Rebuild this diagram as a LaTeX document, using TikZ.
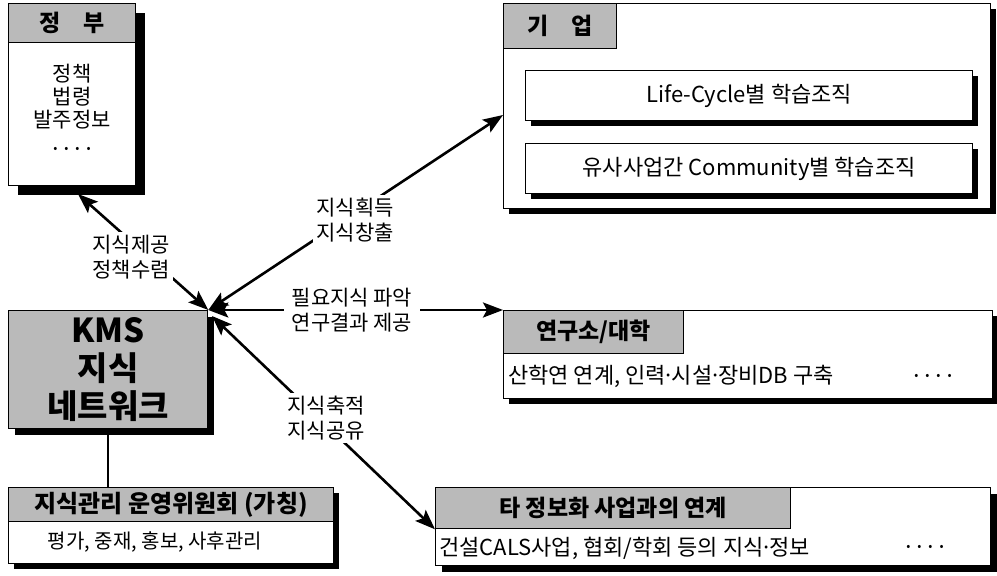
\documentclass[tikz,border=0pt]{standalone}
\usepackage{fontspec}
\setmainfont{Noto Sans CJK KR}
\usetikzlibrary{arrows.meta,shadows}
\newcommand\myfs[2]{\fontsize{#1}{#2}\selectfont}
\newcommand\md{\makebox[6pt][c]{·}}
\newcommand\fourdots{{\myfs{12}{12}•\hspace{7pt}•\hspace{7pt}•\hspace{7pt}•}}
\begin{document}
\begin{tikzpicture}[x=1pt,y=-1pt,
  box/.style={draw=black, line width=1.3pt, fill=white, inner sep=0pt, anchor=north west},
  sh/.style={drop shadow={shadow xshift=#1, shadow yshift=-#1, fill=black, opacity=1}},
  hdr/.style={draw=black, line width=1.3pt, fill=black!27, inner sep=0pt, anchor=north west, font=\myfs{23}{27}\bfseries},
  txt/.style={inner sep=0pt, font=\myfs{21}{23}},
  lbl/.style={fill=white, inner sep=3pt, align=center, font=\myfs{21}{25}},
  conn/.style={line width=2.6pt, {Stealth[length=20pt,width=15pt,inset=4pt]}-{Stealth[length=20pt,width=15pt,inset=4pt]}}
]
\useasboundingbox[fill=white] (0,0) rectangle (997,576);

% government
\node[box, sh=9pt, minimum width=127pt, minimum height=182pt] (gov) at (8,3) {};
\node[hdr, minimum width=127pt, minimum height=39pt] (govh) at (8,3) {정\quad 부};
\node[txt, align=center, anchor=north] (govt) at (72,64) {정책\\법령\\발주정보\\[2pt]\fourdots};

% enterprise
\node[box, sh=5pt, minimum width=487pt, minimum height=205pt] (biz) at (503,3) {};
\node[hdr, minimum width=113pt, minimum height=45pt] (bizh) at (503,3) {기\quad 업};
\node[box, sh=5pt, minimum width=447pt, minimum height=50pt, font=\myfs{22}{25}] (lc) at (525,70) {Life-Cycle별 학습조직};
\node[box, sh=5pt, minimum width=447pt, minimum height=50pt, font=\myfs{22}{25}] (cm) at (525,143) {유사사업간 Community별 학습조직};

% KMS
\node[hdr, sh=6pt, minimum width=199pt, minimum height=118pt, align=center, font=\myfs{33}{38}\bfseries] (kms) at (8,310) {KMS\\지식\\네트워크};

% committee
\node[box, sh=5pt, minimum width=325pt, minimum height=76pt] (com) at (8,487) {};
\node[hdr, minimum width=325pt, minimum height=34pt, font=\myfs{24}{26}\bfseries] (comh) at (8,487) {지식관리 운영위원회 (가칭)};
\node[txt, font=\myfs{20}{22}] (comt) at (155,542) {평가, 중재, 홍보, 사후관리};

% research
\node[box, sh=5pt, minimum width=489pt, minimum height=88pt] (lab) at (503,310) {};
\node[hdr, minimum width=180pt, minimum height=43pt] (labh) at (503,310) {연구소/대학};
\node[txt, anchor=west, font=\myfs{22}{24}] (labt) at (508,376) {산학연 연계, 인력\md 시설\md 장비DB 구축};
\node[txt] (labd) at (933,377) {\fourdots};

% other
\node[box, sh=6pt, minimum width=555pt, minimum height=78pt] (oth) at (435,487) {};
\node[hdr, minimum width=355pt, minimum height=41pt] (othh) at (435,487) {타 정보화 사업과의 연계};
\node[txt, anchor=west, font=\myfs{22}{24}] (otht) at (439,548) {건설CALS사업, 협회/학회 등의 지식\md 정보};
\node[txt] (othd) at (925,548) {\fourdots};

% connectors
\coordinate (kc) at (kms.north east);
\coordinate (govtip) at (78,194);
\coordinate (biztip) at (503,115);
\coordinate (kc4) at (212,316);
\draw[line width=2.2pt] (kms.south) -- (kms.south |- com.north);
\draw[conn] (govtip) -- (kc);
\draw[conn] (kc) -- (biztip);
\draw[conn] (kc) -- (lab.north west);
\draw[conn] (kc4) -- (othh.south west);

% labels
\node[lbl] (l1) at (131,257) {지식제공\\정책수렴};
\node[lbl] (l2) at (355,220) {지식획득\\지식창출};
\node[lbl, inner xsep=8pt] (l3) at (352,310) {필요지식 파악\\연구결과 제공};
\node[lbl] (l4) at (326,418) {지식축적\\지식공유};
\end{tikzpicture}
\end{document}
